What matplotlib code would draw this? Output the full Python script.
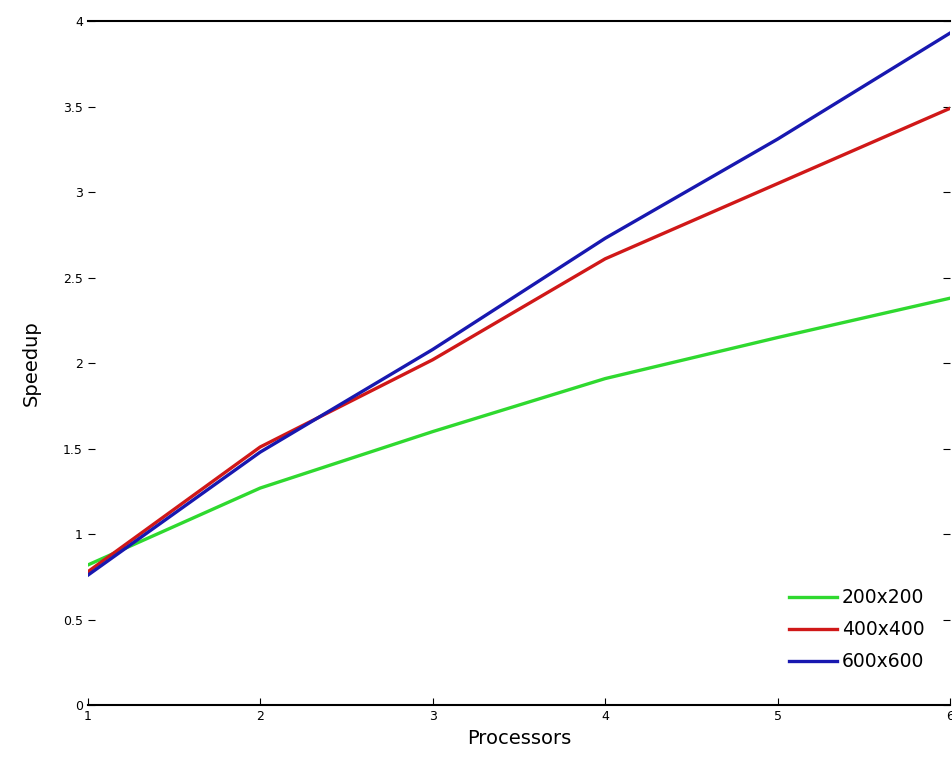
import matplotlib
matplotlib.use("Agg")
import matplotlib.pyplot as plt

# datos
procesadores = [1, 2, 3, 4, 5, 6]
speedup_200 = [0.82, 1.27, 1.60, 1.91, 2.15, 2.38]
speedup_400 = [0.78, 1.51, 2.02, 2.61, 3.05, 3.49]
speedup_600 = [0.76, 1.48, 2.08, 2.73, 3.31, 3.93]
etiquetas = ["200x200", "400x400", "600x600"]
yticks = [0, 0.5, 1, 1.5, 2, 2.5, 3, 3.5, 4]

fig = plt.figure(figsize=(9.53, 7.65), dpi=100)
ax = fig.add_axes([0.092, 0.078, 0.905, 0.8945])

ax.plot(procesadores, speedup_200, color="#2fd92f", lw=2.4, label=etiquetas[0])
ax.plot(procesadores, speedup_400, color="#d01818", lw=2.4, label=etiquetas[1])
ax.plot(procesadores, speedup_600, color="#1818b0", lw=2.4, label=etiquetas[2])

ax.set_xlim(1, 6)
ax.set_ylim(0, 4)
ax.set_yticks(yticks)
ax.set_yticklabels(["0", "0.5", "1", "1.5", "2", "2.5", "3", "3.5", "4"])
ax.set_xticks(procesadores)
ax.tick_params(direction="in", length=5, labelsize=9, right=True, top=False)
ax.spines["left"].set_visible(False)
ax.spines["right"].set_visible(False)
ax.spines["top"].set_linewidth(1.5)
ax.spines["bottom"].set_linewidth(1.5)

ax.set_xlabel("Processors", fontsize=14, labelpad=4)
ax.set_ylabel("Speedup", fontsize=14, labelpad=16)
ax.legend(loc="lower right", bbox_to_anchor=(0.99, 0.025), frameon=False,
          fontsize=13.5, handlelength=2.6, handletextpad=0.25, labelspacing=0.7)

fig.savefig("out.png", dpi=100)
